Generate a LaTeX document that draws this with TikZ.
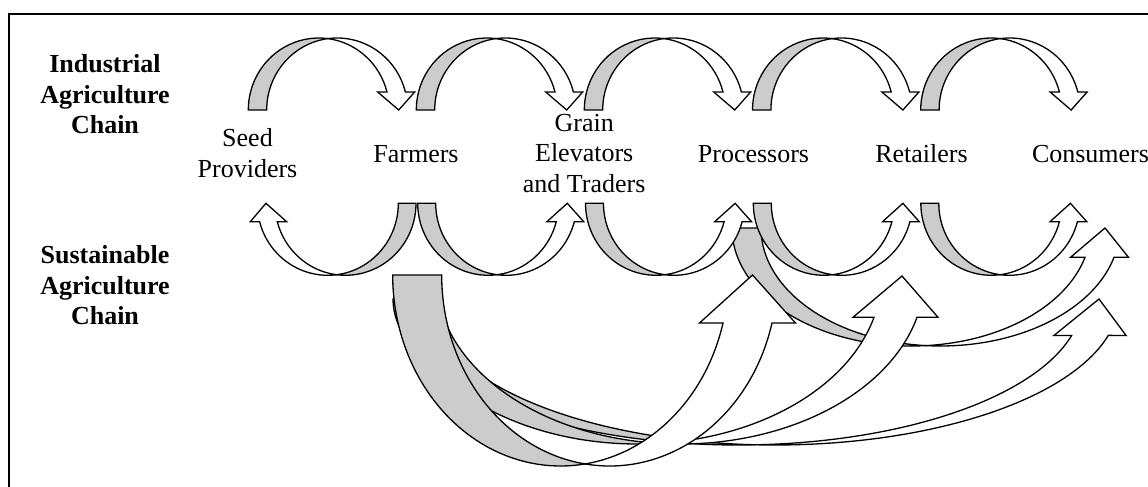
\documentclass[tikz,border=0pt]{standalone}
\usepackage{fontspec}
\setmainfont{Liberation Serif}
\definecolor{ribbongray}{RGB}{204,204,204}
\tikzset{
  ribbonback/.style={fill=ribbongray, draw=black, line width=1.3pt, line join=miter},
  ribbonfront/.style={fill=white, draw=black, line width=1.3pt, line join=miter},
  chainlabel/.style={font=\fontsize{26}{30.5}\selectfont\bfseries, align=center, inner sep=0pt},
  actor/.style={font=\fontsize{26}{30.5}\selectfont, align=center, inner sep=0pt},
  frameline/.style={draw=black, line width=2pt},
}
% Twisted ribbon arrow built from two equal half-ellipses that are offset
% sideways by the band width: the grey back runs from the tail to the point
% where the two edges cross, the white front from there to an upright head.
% #1 outer tail x, #2 band width (signed, towards the head), #3 base y,
% #4 height (signed, towards the turn), #5 near head corner x,
% #6 head drop below/above the base, #7 barb length, #8 tip lean
\newcommand\ribbonarrow[8]{%
  \pgfmathsetmacro\rbT{asin((#6)/abs(#4))}%
  \pgfmathsetmacro\rbR{((#5)-(#1))/(1+cos(\rbT))}%
  \pgfmathsetmacro\rbPa{acos((#2)/(2*\rbR))}%
  \pgfmathsetmacro\rbPb{acos(-(#2)/(2*\rbR))}%
  \pgfmathsetmacro\rbXc{(#1)+\rbR+(#2)/2}%
  \pgfmathsetmacro\rbYc{(#3)+(#4)*sin(\rbPa)}%
  \pgfmathsetmacro\rbS{sign(#2)}%
  \pgfmathsetmacro\rbY{(#3)+sign(#4)*(#6)}%
  \pgfmathsetmacro\rbF{(#5)+(#2)}%
  \pgfmathsetmacro\rbTip{(#5)+(#2)/2+\rbS*(#8)}%
  \pgfmathsetmacro\rbWf{\rbF+\rbS*(#7)}%
  \pgfmathsetmacro\rbWn{(#5)-\rbS*(#7)}%
  \filldraw[ribbonback] (#1,#3)
     arc[start angle=180, end angle=\rbPa, x radius=\rbR, y radius=#4]
     arc[start angle=\rbPb, end angle=180, x radius=\rbR, y radius=#4] -- cycle;
  \filldraw[ribbonfront] (\rbXc,\rbYc)
     arc[start angle=\rbPb, end angle=\rbT, x radius=\rbR, y radius=#4]
     -- (\rbWf,\rbY) -- (\rbTip,#3) -- (\rbWn,\rbY) -- (#5,\rbY)
     arc[start angle=\rbT, end angle=\rbPa, x radius=\rbR, y radius=#4] -- cycle;
}
\begin{document}
\begin{tikzpicture}[x=1pt, y=-1pt]
  \useasboundingbox (0,0) rectangle (1148,487);
  \clip (0,0) rectangle (1148,487);

  % frame
  \draw[frameline] (1160,14) -- (8.5,14) -- (8.5,500);

  % direct-marketing arrows of the sustainable chain
  % processors -> consumers
  \ribbonarrow{732}{29}{228}{118}{1085}{29.3}{14.5}{5.5}
  % farmers -> consumers
  \ribbonarrow{393}{36.6}{299}{146}{1071.7}{36.4}{17.7}{9}
  % farmers -> retailers
  \ribbonarrow{393}{43}{276}{168}{874}{41.3}{21}{6.5}
  % farmers -> processors
  \ribbonarrow{392.7}{49}{275}{191}{723}{48}{23.5}{5}

  % sustainable chain: farmers -> seed providers
  \ribbonarrow{416}{-17.7}{203.3}{72}{277.3}{18.4}{9.3}{2.5}
  % sustainable chain: one step to the right
  \foreach \c in {417.7,585.5,753.3,920.8}{
    \ribbonarrow{\c}{18}{203.3}{72}{\c+138.6}{18.4}{9.4}{2}
  }

  % industrial chain: one step to the right
  \foreach \c in {248.3,416.3,584.3,752.5,920.7}{
    \ribbonarrow{\c}{18.4}{110}{-72}{\c+138.7}{18}{9.3}{2.5}
  }

  % row labels
  \node[chainlabel] (indlbl) at (105,94.4) {Industrial\\Agriculture\\Chain};
  \node[chainlabel] (suslbl) at (105,285.5) {Sustainable\\Agriculture\\Chain};

  % actors
  \node[actor] (seed) at (247.5,153) {Seed\\Providers};
  \node[actor, anchor=base] (farm) at (416,162.7) {Farmers};
  \node[actor] (grain) at (584.2,153.3) {Grain\\Elevators\\and Traders};
  \node[actor, anchor=base] (proc) at (753.5,162.7) {Processors};
  \node[actor, anchor=base] (ret) at (921.5,162.7) {Retailers};
  \node[actor, anchor=base] (cons) at (1090.5,162.7) {Consumers};
\end{tikzpicture}
\end{document}
